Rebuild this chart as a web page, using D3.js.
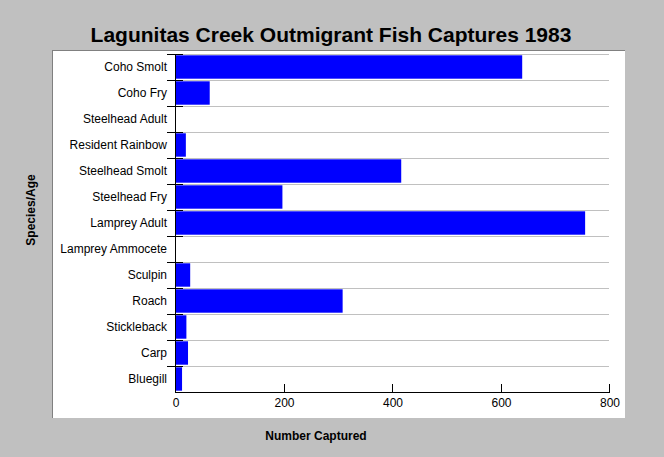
<!DOCTYPE html>
<html>
<head>
<meta charset="utf-8">
<script src="https://cdn.jsdelivr.net/npm/d3@7"></script>
<style>
  html, body { margin: 0; padding: 0; background: #c0c0c0; }
  svg { display: block; }
  text { font-family: "Liberation Sans", Arial, sans-serif; }
</style>
</head>
<body>
<svg id="chart" width="664" height="457"></svg>
<script>
const categories = ["Coho Smolt", "Coho Fry", "Steelhead Adult", "Resident Rainbow", "Steelhead Smolt", "Steelhead Fry", "Lamprey Adult", "Lamprey Ammocete", "Sculpin", "Roach", "Stickleback", "Carp", "Bluegill"];
const captures = [640, 64, 0, 20, 417, 198, 756, 0, 28, 309, 21, 24, 13];
const xTicks = [0, 200, 400, 600, 800];
const titleText = "Lagunitas Creek Outmigrant Fish Captures 1983";
const xTitle = "Number Captured";
const yTitle = "Species/Age";

const svg = d3.select("#chart");
const W = 664, H = 457;
svg.append("rect").attr("width", W).attr("height", H).attr("fill", "#c0c0c0");

// panel
const panel = {x: 52, y: 50, w: 573, h: 368};
svg.append("rect").attr("x", panel.x).attr("y", panel.y).attr("width", panel.w).attr("height", panel.h).attr("fill", "#ffffff");
svg.append("line").attr("x1", panel.x + 0.5).attr("x2", panel.x + 0.5).attr("y1", panel.y).attr("y2", panel.y + panel.h).attr("stroke", "#808080");
svg.append("line").attr("x1", panel.x).attr("x2", panel.x + panel.w).attr("y1", panel.y + 0.5).attr("y2", panel.y + 0.5).attr("stroke", "#808080");

const plot = {left: 175, right: 609, top: 54, bottom: 392};
const x = d3.scaleLinear().domain([0, 800]).range([plot.left, plot.right]);
const y = d3.scaleBand().domain(categories).range([plot.top, plot.bottom]).paddingInner(0.1).paddingOuter(0.05);
const yb = d3.scaleBand().domain(categories).range([plot.top, plot.bottom]);

// gridlines at band boundaries
const g = svg.append("g");
g.selectAll("line.grid").data(categories).enter().append("line")
  .attr("class", "grid")
  .attr("x1", plot.left).attr("x2", plot.right)
  .attr("y1", d => Math.round(yb(d)) + 0.5).attr("y2", d => Math.round(yb(d)) + 0.5)
  .attr("stroke", "#c0c0c0");

// bars
g.selectAll("rect.bar").data(categories).enter().append("rect")
  .attr("class", "bar")
  .attr("x", plot.left + 1)
  .attr("y", (d) => y(d))
  .attr("width", (d, i) => Math.max(0, x(captures[i]) - x(0) - 1))
  .attr("height", y.bandwidth())
  .attr("fill", "#0000ff");

// y axis line and ticks
svg.append("line").attr("x1", plot.left + 0.5).attr("x2", plot.left + 0.5).attr("y1", plot.top).attr("y2", plot.bottom + 0.5).attr("stroke", "#000");
svg.selectAll("line.ytick").data(categories).enter().append("line")
  .attr("class", "ytick")
  .attr("x1", plot.left - 8).attr("x2", plot.left + 8)
  .attr("y1", d => Math.round(yb(d)) + 0.5).attr("y2", d => Math.round(yb(d)) + 0.5)
  .attr("stroke", "#000");
svg.selectAll("text.ylab").data(categories).enter().append("text")
  .attr("class", "ylab")
  .attr("x", 167).attr("y", d => yb(d) + yb.bandwidth() / 2 + 4)
  .attr("text-anchor", "end").attr("font-size", 12).attr("fill", "#000")
  .text(d => d);

// x axis
svg.append("line").attr("x1", plot.left).attr("x2", plot.right + 1).attr("y1", plot.bottom + 0.5).attr("y2", plot.bottom + 0.5).attr("stroke", "#000");
svg.selectAll("line.xtick").data(xTicks).enter().append("line")
  .attr("class", "xtick")
  .attr("x1", d => Math.round(x(d)) + 0.5).attr("x2", d => Math.round(x(d)) + 0.5)
  .attr("y1", plot.bottom - 8).attr("y2", plot.bottom)
  .attr("stroke", "#000");
svg.selectAll("text.xlab").data(xTicks).enter().append("text")
  .attr("class", "xlab")
  .attr("x", d => x(d) + 1).attr("y", plot.bottom + 15)
  .attr("text-anchor", "middle").attr("font-size", 12).attr("fill", "#000")
  .text(d => d);

// titles
svg.append("text").attr("x", 331).attr("y", 42).attr("text-anchor", "middle")
  .attr("font-size", 21).attr("font-weight", "bold").attr("fill", "#000").text(titleText);
svg.append("text").attr("x", 316).attr("y", 440).attr("text-anchor", "middle")
  .attr("font-size", 12).attr("font-weight", "bold").attr("fill", "#000").text(xTitle);
svg.append("text").attr("transform", "translate(35,210) rotate(-90)").attr("text-anchor", "middle")
  .attr("font-size", 12).attr("font-weight", "bold").attr("fill", "#000").text(yTitle);
</script>
</body>
</html>
